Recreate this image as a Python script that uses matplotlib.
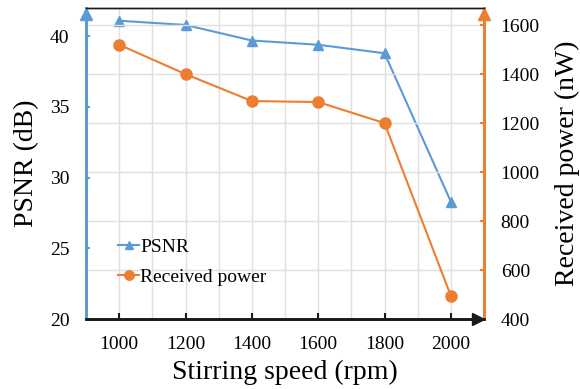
import numpy as np
import matplotlib
matplotlib.use("Agg")
import matplotlib.pyplot as plt
from matplotlib.transforms import offset_copy

speed = [1000, 1200, 1400, 1600, 1800, 2000]
psnr = [41.1, 40.8, 39.7, 39.4, 38.8, 28.3]
power = [1520, 1400, 1290, 1286, 1200, 495]

blue = '#5B9BD5'
orange = '#ED7D31'

plt.rcParams['font.family'] = ['Liberation Serif', 'DejaVu Serif']

fig = plt.figure(figsize=(5.8, 3.89), dpi=100)
ax = fig.add_axes([86/580, 1 - 319/389, (484-86)/580, (319-8)/389])
ax2 = ax.twinx()

ax.set_xlim(900, 2100)
ax.set_ylim(20, 42)
ax2.set_ylim(400, 1670)

ax.set_xticks(np.arange(1000, 2001, 200))
ax.set_xticks(np.arange(900, 2101, 100), minor=True)
ax.set_yticks(np.arange(20, 41, 5))
ax2.set_yticks(np.arange(400, 1601, 200))

ax.grid(True, which='both', axis='x', color='#e0e0e0', lw=1)
ax2.grid(True, axis='y', color='#e0e0e0', lw=1)
ax.set_axisbelow(True)
ax2.set_axisbelow(True)

l1, = ax.plot(speed, psnr, color=blue, marker='^', ms=7, lw=1.5, label='PSNR', zorder=5)
l2, = ax2.plot(speed, power, color=orange, marker='o', ms=8, lw=1.5, label='Received power', zorder=5)

for a in (ax, ax2):
    a.spines['left'].set_color(blue)
    a.spines['left'].set_linewidth(2)
    a.spines['right'].set_color(orange)
    a.spines['right'].set_linewidth(2)
    a.spines['bottom'].set_color('#1a1a1a')
    a.spines['bottom'].set_linewidth(2)
    a.spines['top'].set_color('#1a1a1a')
    a.spines['top'].set_linewidth(1)

ax.tick_params(axis='x', which='major', direction='in', length=4, width=1.5, color='#1a1a1a', labelsize=14, pad=12)
ax.tick_params(axis='x', which='minor', length=0)
ax.tick_params(axis='y', direction='in', length=3, width=1.5, color=blue, labelsize=14, pad=12)
ax2.tick_params(axis='y', direction='in', length=3, width=1.5, color=orange, labelsize=14, pad=12)

ax.set_xlabel('Stirring speed (rpm)', fontsize=20, labelpad=5.5)
ax.set_ylabel('PSNR (dB)', fontsize=20)
ax.yaxis.set_label_coords(-0.118, 0.5)
ax2.set_ylabel('Received power (nW)', fontsize=20)
ax2.yaxis.set_label_coords(1.178, 0.5)

# axis arrows
up = offset_copy(ax.transAxes, fig=fig, x=0, y=-4.5, units='points')
ax.plot([0], [1], marker='^', color=blue, ms=9, transform=up, clip_on=False, zorder=10)
ax.plot([1], [1], marker='^', color=orange, ms=9, transform=up, clip_on=False, zorder=10)
right = offset_copy(ax.transAxes, fig=fig, x=-4.5, y=0, units='points')
ax.plot([1], [0], marker='>', color='#1a1a1a', ms=9, transform=right, clip_on=False, zorder=10)

leg = ax2.legend([l1, l2], ['PSNR', 'Received power'], loc='center left',
                 bbox_to_anchor=(0.08, 0.183), frameon=False, fontsize=14,
                 handlelength=1.1, handletextpad=0.05, labelspacing=0.62,
                 borderpad=0, borderaxespad=0, markerscale=0.85)

fig.savefig('out.png', dpi=100)
